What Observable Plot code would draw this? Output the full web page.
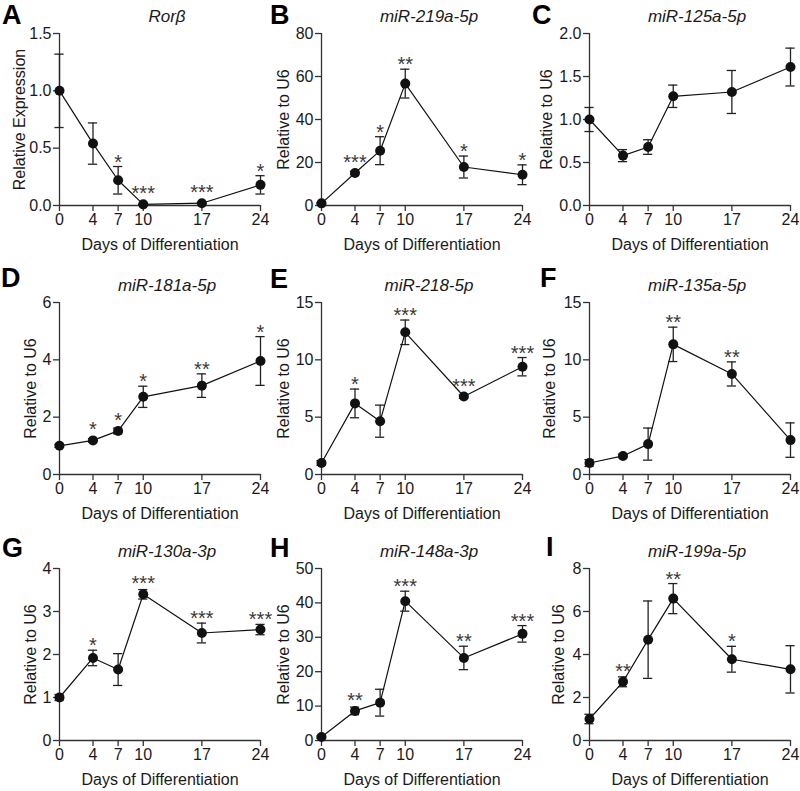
<!DOCTYPE html>
<html>
<head>
<meta charset="utf-8">
<script src="https://cdn.jsdelivr.net/npm/d3@7"></script>
<script src="https://cdn.jsdelivr.net/npm/@observablehq/plot@0.6"></script>
<style>
  html, body { margin: 0; padding: 0; background: #fff; }
  #fig { position: relative; width: 800px; height: 791px; overflow: hidden; font-family: "Liberation Sans", Arial, sans-serif; }
  .panel { position: absolute; }
  .panel svg { overflow: visible; }
  .letter { position: absolute; font-size: 27px; line-height: 27px; font-weight: bold; color: #000; }
</style>
</head>
<body>
<div id="fig"></div>
<script>
// ---------- data ----------
const days = [0, 4, 7, 10, 17, 24];
const letters = ["A", "B", "C", "D", "E", "F", "G", "H", "I"];
const titles = ["Rorβ", "miR-219a-5p", "miR-125a-5p", "miR-181a-5p", "miR-218-5p", "miR-135a-5p", "miR-130a-3p", "miR-148a-3p", "miR-199a-5p"];
const yLabels = ["Relative Expression", "Relative to U6", "Relative to U6", "Relative to U6", "Relative to U6", "Relative to U6", "Relative to U6", "Relative to U6", "Relative to U6"];
const xLabel = "Days of Differentiation";
const yTicks = [
  [0, 0.5, 1.0, 1.5],
  [0, 20, 40, 60, 80],
  [0, 0.5, 1.0, 1.5, 2.0],
  [0, 2, 4, 6],
  [0, 5, 10, 15],
  [0, 5, 10, 15],
  [0, 1, 2, 3, 4],
  [0, 10, 20, 30, 40, 50],
  [0, 2, 4, 6, 8]
];

const meanA = [1.0, 0.54, 0.22, 0.01, 0.02, 0.18];
const errA  = [0.32, 0.18, 0.12, 0.0, 0.0, 0.08];
const sigA  = ["", "", "*", "***", "***", "*"];

const meanB = [1.0, 15.1, 25.5, 56.7, 17.9, 14.3];
const errB  = [0.3, 0.8, 6.5, 6.7, 5.1, 4.6];
const sigB  = ["", "***", "*", "**", "*", "*"];

const meanC = [1.0, 0.58, 0.68, 1.27, 1.32, 1.61];
const errC  = [0.14, 0.07, 0.085, 0.13, 0.25, 0.22];
const sigC  = ["", "", "", "", "", ""];

const meanD = [1.0, 1.19, 1.52, 2.71, 3.1, 3.96];
const errD  = [0.05, 0.06, 0.1, 0.37, 0.41, 0.85];
const sigD  = ["", "*", "*", "*", "**", "*"];

const meanE = [1.0, 6.2, 4.65, 12.4, 6.8, 9.4];
const errE  = [0.2, 1.25, 1.4, 1.07, 0.15, 0.8];
const sigE  = ["", "*", "", "***", "***", "***"];

const meanF = [1.0, 1.62, 2.65, 11.35, 8.77, 3.0];
const errF  = [0.3, 0.15, 1.4, 1.5, 1.05, 1.5];
const sigF  = ["", "", "", "**", "**", ""];

const meanG = [1.0, 1.92, 1.65, 3.4, 2.5, 2.58];
const errG  = [0.07, 0.18, 0.37, 0.11, 0.23, 0.12];
const sigG  = ["", "*", "", "***", "***", "***"];

const meanH = [1.0, 8.6, 11.0, 40.5, 24.0, 31.0];
const errH  = [0.3, 1.1, 3.9, 2.9, 3.4, 2.4];
const sigH  = ["", "**", "", "***", "**", "***"];

const meanI = [1.0, 2.73, 4.69, 6.6, 3.78, 3.31];
const errI  = [0.22, 0.23, 1.8, 0.7, 0.6, 1.1];
const sigI  = ["", "**", "", "**", "*", ""];

const means = [meanA, meanB, meanC, meanD, meanE, meanF, meanG, meanH, meanI];
const errs  = [errA, errB, errC, errD, errE, errF, errG, errH, errI];
const sigs  = [sigA, sigB, sigC, sigD, sigE, sigF, sigG, sigH, sigI];

// ---------- layout ----------
const axisXs = [59, 321, 589];          // y-axis line x per column
const plotTops = [33, 302, 568];        // top of plot area per row
const PW = 201, PH = 172;
const ML = 56, MR = 8, MT = 30, MB = 50;
const yLabelOffsets = [46, 44, 49, 35, 44, 46, 35, 44, 37];
const letterPos = [[2, 5.5], [270, 5.5], [532, 5.5], [1, 268], [270, 269], [540, 268], [2, 538], [270, 538], [546, 537]];
const FONT = "'Liberation Sans', Arial, Helvetica, sans-serif";
const INK = "#1a1a1a";
const AX = "#333";
const STAR_MIN_PX = 6;   // stars sit at least this far above the symbol centre

const fig = document.getElementById("fig");

for (let p = 0; p < 9; p++) {
  const col = p % 3, row = Math.floor(p / 3);
  const data = days.map((d, i) => ({day: d, mean: means[p][i], err: errs[p][i], sig: sigs[p][i]}));
  const ticks = yTicks[p];
  const yMax = ticks[ticks.length - 1];
  const fmt = yMax <= 2 ? d3.format(".1f") : d3.format("d");
  const cap = 0.55;
  const minLift = STAR_MIN_PX * yMax / PH;

  const chart = Plot.plot({
    width: ML + PW + MR,
    height: MT + PH + MB,
    marginLeft: ML, marginRight: MR, marginTop: MT, marginBottom: MB,
    style: {fontFamily: FONT, fontSize: "16px", color: INK, background: "transparent", overflow: "visible"},
    x: {domain: [0, 24]},
    y: {domain: [0, yMax]},
    marks: [
      Plot.axisX({ticks: days, tickFormat: d => String(d), tickSize: 6, tickPadding: 2,
        stroke: AX, strokeWidth: 1.3, fill: INK, fontSize: 16,
        label: xLabel, labelAnchor: "center", labelOffset: 44, labelArrow: "none"}),
      Plot.axisY({ticks: ticks, tickFormat: fmt, tickSize: 6, tickPadding: 2,
        stroke: AX, strokeWidth: 1.3, fill: INK, fontSize: 16,
        label: yLabels[p], labelAnchor: "center", labelOffset: yLabelOffsets[p], labelArrow: "none"}),
      Plot.ruleY([0], {stroke: AX, strokeWidth: 1.3}),
      Plot.ruleX([0], {stroke: AX, strokeWidth: 1.3}),
      Plot.ruleX(data, {x: "day", y1: d => d.mean - d.err, y2: d => d.mean + d.err, stroke: "#222", strokeWidth: 1.3}),
      Plot.ruleY(data, {y: d => d.mean + d.err, x1: d => d.day - cap, x2: d => d.day + cap, stroke: "#222", strokeWidth: 1.3}),
      Plot.ruleY(data, {y: d => d.mean - d.err, x1: d => d.day - cap, x2: d => d.day + cap, stroke: "#222", strokeWidth: 1.3}),
      Plot.line(data, {x: "day", y: "mean", stroke: "#111", strokeWidth: 1.2}),
      Plot.dot(data, {x: "day", y: "mean", r: 5, fill: "#111", stroke: "none"}),
      Plot.text(data, {x: "day", y: d => d.mean + Math.max(d.err, minLift), text: "sig", lineAnchor: "bottom", dy: 2,
        fontSize: 20, fill: "#3a3a3a"}),
      Plot.text([titles[p]], {frameAnchor: "top", dy: -17, dx: 7, lineAnchor: "middle",
        fontStyle: "italic", fontWeight: "normal", fontSize: 17, fill: INK})
    ]
  });

  const div = document.createElement("div");
  div.className = "panel";
  div.style.left = (axisXs[col] - ML) + "px";
  div.style.top = (plotTops[row] - MT) + "px";
  div.appendChild(chart);
  fig.appendChild(div);

  const L = document.createElement("div");
  L.className = "letter";
  L.textContent = letters[p];
  L.style.left = letterPos[p][0] + "px";
  L.style.top = (letterPos[p][1] - 3.5) + "px";
  fig.appendChild(L);
}
</script>
</body>
</html>
